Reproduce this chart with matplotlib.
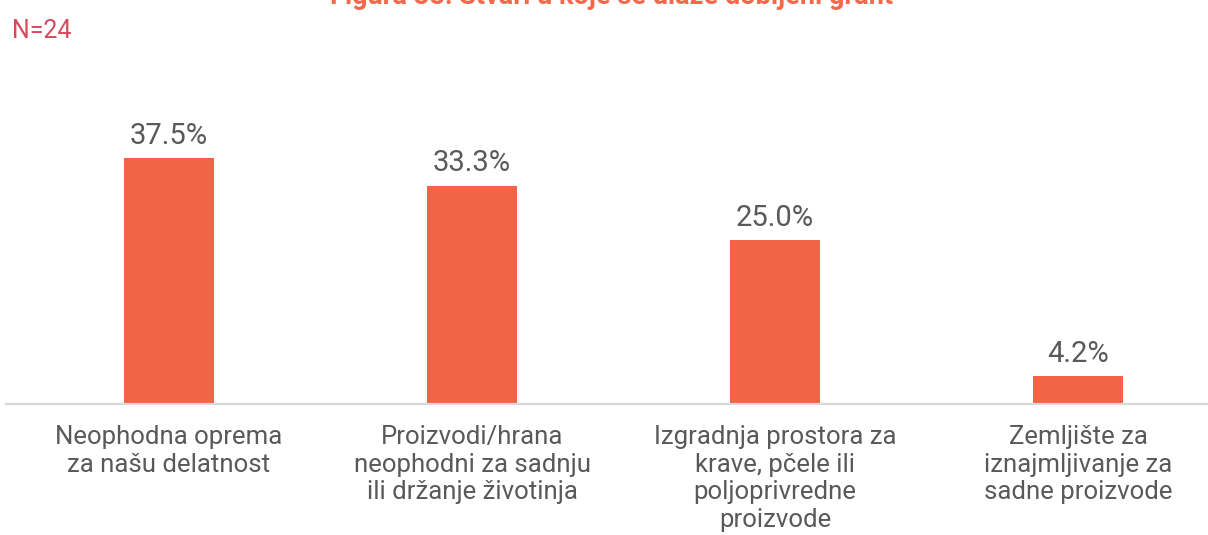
import matplotlib
matplotlib.use("Agg")
import matplotlib.pyplot as plt

categories = [
    "Neophodna oprema\nza našu delatnost",
    "Proizvodi/hrana\nneophodni za sadnju\nili držanje životinja",
    "Izgradnja prostora za\nkrave, pčele ili\npoljoprivredne\nproizvode",
    "Zemljište za\niznajmljivanje za\nsadne proizvode",
]
shares = [37.5, 33.3, 25.0, 4.2]

BAR = "#F26446"
TEXT = "#595959"
W, H = 1208, 535

plt.rcParams["font.family"] = ["Roboto", "DejaVu Sans"]

fig = plt.figure(figsize=(W / 100, H / 100), dpi=100)
# axes span pixel columns 6..1208 and rows 100..404 (from top)
ax = fig.add_axes([6 / W, 1 - 404 / H, (W - 6) / W, (404 - 100) / H])

x = range(len(shares))
ax.bar(x, shares, width=0.30, color=BAR, zorder=2)
for xi, v in zip(x, shares):
    ax.annotate(f"{v:.1f}%", (xi, v), xytext=(0, 6), textcoords="offset points",
                ha="center", va="bottom", fontsize=21, color=TEXT)

ax.set_xlim((6 - 169) / 303, (W - 169) / 303)
ax.set_ylim(0, (404 - 100) / 6.56)
ax.set_yticks([])
ax.set_xticks(list(x))
ax.set_xticklabels(categories, fontsize=18.5, color=TEXT, linespacing=1.2)
ax.tick_params(axis="x", length=0, pad=15)
for s in ("top", "right", "left"):
    ax.spines[s].set_visible(False)
ax.spines["bottom"].set_color("#D9D9D9")
ax.spines["bottom"].set_linewidth(1.6)

fig.text(612 / W, 1 - 4 / H, "Figura 38: Stvari u koje se ulaže dobijeni grant",
         ha="center", va="baseline", fontsize=19.5, fontweight="bold", color="#F4694B")
fig.text(12 / W, 1 - 38 / H, "N=24", ha="left", va="baseline",
         fontsize=18, color="#D64A5C")

fig.savefig("out.png", dpi=100)
